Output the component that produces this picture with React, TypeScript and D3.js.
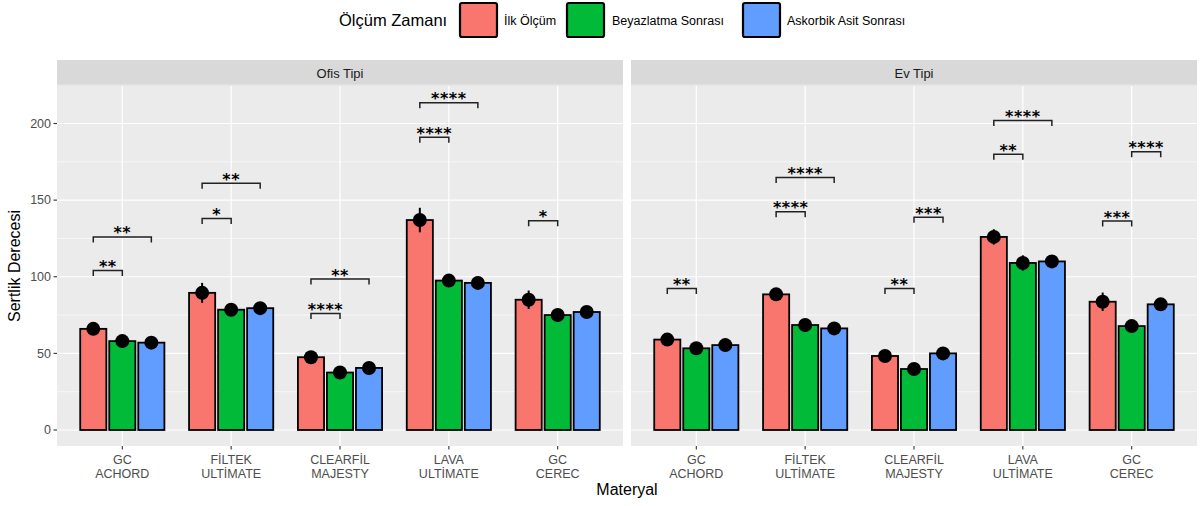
import React from "react";
import * as d3 from "d3";

const categories: string[][] = [
  ["GC", "ACHORD"],
  ["FİLTEK", "ULTİMATE"],
  ["CLEARFİL", "MAJESTY"],
  ["LAVA", "ULTİMATE"],
  ["GC", "CEREC"],
];
const panels = ["Ofis Tipi", "Ev Tipi"];
const groups = ["İlk Ölçüm", "Beyazlatma Sonrası", "Askorbik Asit Sonrası"];
const groupColors = ["#F8766D", "#00BA38", "#619CFF"];

// means per panel, per group, per category
const ofisIlk = [66, 89.5, 47.5, 137, 85];
const ofisBeyaz = [58, 78.5, 37.5, 97.5, 75];
const ofisAskorbik = [57, 79.5, 40.5, 96, 77];
const evIlk = [59, 88.5, 48.3, 126, 83.7];
const evBeyaz = [53.3, 68.5, 39.8, 109, 67.8];
const evAskorbik = [55.4, 66.3, 50, 110, 82];

// standard errors
const ofisIlkErr = [2, 6.5, 2, 8, 6];
const ofisBeyazErr = [1.5, 1.5, 1.5, 2, 1.5];
const ofisAskorbikErr = [1.5, 1.5, 1.5, 2, 1.5];
const evIlkErr = [2, 3, 2, 5, 6];
const evBeyazErr = [2, 2, 2, 5, 2];
const evAskorbikErr = [2, 4, 2, 3, 2];

type Bracket = { cat: number; from: number; to: number; y: number; label: string };
const ofisBrackets: Bracket[] = [
  { cat: 0, from: 0, to: 1, y: 104, label: "**" },
  { cat: 0, from: 0, to: 2, y: 126, label: "**" },
  { cat: 1, from: 0, to: 1, y: 138, label: "*" },
  { cat: 1, from: 0, to: 2, y: 161, label: "**" },
  { cat: 2, from: 0, to: 1, y: 76, label: "****" },
  { cat: 2, from: 0, to: 2, y: 98.5, label: "**" },
  { cat: 3, from: 0, to: 1, y: 191, label: "****" },
  { cat: 3, from: 0, to: 2, y: 213.5, label: "****" },
  { cat: 4, from: 0, to: 1, y: 136.5, label: "*" },
];
const evBrackets: Bracket[] = [
  { cat: 0, from: 0, to: 1, y: 92.4, label: "**" },
  { cat: 1, from: 0, to: 1, y: 142.4, label: "****" },
  { cat: 1, from: 0, to: 2, y: 164.8, label: "****" },
  { cat: 2, from: 0, to: 1, y: 92.4, label: "**" },
  { cat: 2, from: 1, to: 2, y: 138.8, label: "***" },
  { cat: 3, from: 0, to: 1, y: 180, label: "**" },
  { cat: 3, from: 0, to: 2, y: 202, label: "****" },
  { cat: 4, from: 0, to: 1, y: 136.3, label: "***" },
  { cat: 4, from: 1, to: 2, y: 181.5, label: "****" },
];

const yTicks = [0, 50, 100, 150, 200];
const yMinor = [25, 75, 125, 175, 225];

const panelData = [
  { means: [ofisIlk, ofisBeyaz, ofisAskorbik], errs: [ofisIlkErr, ofisBeyazErr, ofisAskorbikErr], brackets: ofisBrackets },
  { means: [evIlk, evBeyaz, evAskorbik], errs: [evIlkErr, evBeyazErr, evAskorbikErr], brackets: evBrackets },
];

const W = 1203;
const H = 506;
const FONT = "'Liberation Sans', Arial, Helvetica, sans-serif";
const panelX: [number, number][] = [
  [57, 623],
  [631, 1197],
];
const stripTop = 60;
const panelTop = 86;
const panelBottom = 446;

export default function App() {
  const y = d3.scaleLinear().domain([0, 200]).range([430, 123.5]);
  const catKeys = categories.map((c) => c.join(" "));

  return (
    <svg
      width={W}
      height={H}
      style={{ position: "absolute", left: 0, top: 0, background: "#fff" }}
      fontFamily={FONT}
    >
      {/* Legend */}
      <text x={339} y={26} fontSize={16.5} fill="#000">Ölçüm Zamanı</text>
      {groups.map((g, i) => {
        const kx = [460, 567, 743][i];
        const tx = [504, 612, 787][i];
        return (
          <g key={g}>
            <rect x={kx} y={3} width={37} height={34} rx={2} fill={groupColors[i]} stroke="#000" strokeWidth={2.2} />
            <text x={tx} y={25} fontSize={12.5} fill="#000">{g}</text>
          </g>
        );
      })}

      {panels.map((p, pi) => {
        const [x0, x1] = panelX[pi];
        const x = d3.scalePoint<string>().domain(catKeys).range([x0, x1]).padding(0.6);
        const step = x.step();
        const dodge = (step * 0.8) / 3;
        const bw = step * 0.24;
        const pd = panelData[pi];
        return (
          <g key={p}>
            {/* strip */}
            <rect x={x0} y={stripTop} width={x1 - x0} height={panelTop - stripTop} fill="#D9D9D9" />
            <text x={(x0 + x1) / 2} y={(stripTop + panelTop) / 2 + 4.5} fontSize={13} fill="#1A1A1A" textAnchor="middle">{p}</text>
            {/* panel bg */}
            <rect x={x0} y={panelTop} width={x1 - x0} height={panelBottom - panelTop} fill="#EBEBEB" />
            {yMinor.map((t) => (
              <line key={"mn" + t} x1={x0} x2={x1} y1={y(t)} y2={y(t)} stroke="#fff" strokeWidth={0.6} />
            ))}
            {yTicks.map((t) => (
              <line key={"mj" + t} x1={x0} x2={x1} y1={y(t)} y2={y(t)} stroke="#fff" strokeWidth={1.2} />
            ))}
            {catKeys.map((c) => (
              <line key={"v" + c} x1={x(c)!} x2={x(c)!} y1={panelTop} y2={panelBottom} stroke="#fff" strokeWidth={1.2} />
            ))}
            {/* bars */}
            {pd.means.map((series, gi) =>
              series.map((v, ci) => {
                const cx = x(catKeys[ci])! + (gi - 1) * dodge;
                return (
                  <rect
                    key={`b${gi}-${ci}`}
                    x={cx - bw / 2}
                    y={y(v)}
                    width={bw}
                    height={y(0) - y(v)}
                    fill={groupColors[gi]}
                    stroke="#000"
                    strokeWidth={1.8}
                  />
                );
              })
            )}
            {/* pointranges */}
            {pd.means.map((series, gi) =>
              series.map((v, ci) => {
                const cx = x(catKeys[ci])! + (gi - 1) * dodge;
                const e = pd.errs[gi][ci];
                return (
                  <g key={`p${gi}-${ci}`}>
                    <line x1={cx} x2={cx} y1={y(v - e)} y2={y(v + e)} stroke="#000" strokeWidth={2} />
                    <circle cx={cx} cy={y(v)} r={7} fill="#000" />
                  </g>
                );
              })
            )}
            {/* brackets */}
            {pd.brackets.map((b, bi) => {
              const xa = x(catKeys[b.cat])! + (b.from - 1) * dodge;
              const xb = x(catKeys[b.cat])! + (b.to - 1) * dodge;
              const yy = y(b.y);
              const tip = 5.5;
              return (
                <g key={"br" + bi}>
                  <path
                    d={`M${xa},${yy + tip}V${yy}H${xb}V${yy + tip}`}
                    fill="none"
                    stroke="#222"
                    strokeWidth={1.5}
                  />
                  <text
                    x={(xa + xb) / 2}
                    y={yy + 1.5}
                    fontSize={16}
                    fontWeight="bold"
                    fontFamily="'DejaVu Sans', sans-serif"
                    letterSpacing={0.5}
                    textAnchor="middle"
                    fill="#000"
                  >
                    {b.label}
                  </text>
                </g>
              );
            })}
            {/* x ticks & labels */}
            {categories.map((lines, ci) => {
              const cx = x(catKeys[ci])!;
              return (
                <g key={"xt" + ci}>
                  <line x1={cx} x2={cx} y1={panelBottom} y2={panelBottom + 3.5} stroke="#333" strokeWidth={1.1} />
                  <text x={cx} y={463.5} fontSize={12.5} fill="#4D4D4D" textAnchor="middle">{lines[0]}</text>
                  <text x={cx} y={478} fontSize={12.5} fill="#4D4D4D" textAnchor="middle">{lines[1]}</text>
                </g>
              );
            })}
            {/* y axis for first panel */}
            {pi === 0 &&
              yTicks.map((t) => (
                <g key={"yt" + t}>
                  <line x1={x0 - 3.5} x2={x0} y1={y(t)} y2={y(t)} stroke="#333" strokeWidth={1.1} />
                  <text x={x0 - 6} y={y(t) + 4.3} fontSize={12.5} fill="#4D4D4D" textAnchor="end">{t}</text>
                </g>
              ))}
          </g>
        );
      })}

      {/* axis titles */}
      <text x={(panelX[0][0] + panelX[1][1]) / 2} y={495} fontSize={16} fill="#000" textAnchor="middle">Materyal</text>
      <text
        transform={`translate(19.5, ${(panelTop + panelBottom) / 2}) rotate(-90)`}
        fontSize={16}
        fill="#000"
        textAnchor="middle"
      >
        Sertlik Derecesi
      </text>
    </svg>
  );
}
